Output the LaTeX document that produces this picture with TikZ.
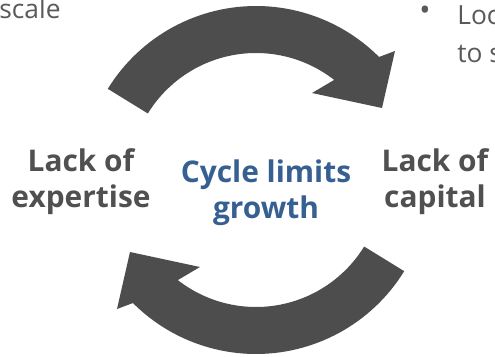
\documentclass[tikz,border=0pt]{standalone}
\usepackage{fontspec}
\setmainfont{Open Sans}
\usetikzlibrary{positioning}

\definecolor{cyclegray}{RGB}{77,77,77}
\definecolor{labelgray}{RGB}{80,80,80}
\definecolor{cycleblue}{RGB}{54,96,146}
\definecolor{notegray}{RGB}{89,89,89}

\begin{document}
\begin{tikzpicture}[
          x=0.02cm, y=0.02cm,
          bandarrow/.style={fill=cyclegray, draw=none},
          sidelabel/.style={align=center, inner sep=0pt, text=labelgray, font=\fontsize{17}{20.4}\selectfont\bfseries},
          centerlabel/.style={align=center, inner sep=0pt, text=cycleblue, font=\fontsize{17}{20.4}\selectfont\bfseries},
          notetext/.style={align=left, inner sep=0pt, text=notegray, font=\fontsize{15}{21.5}\selectfont}
        ]
        \useasboundingbox (0, 0) rectangle (495, 356);

        % ----------------------------------------------------
        % NOTES (cut by the slide edge)
        % ----------------------------------------------------
        \node (scalenote) [notetext, anchor=base west] at (-1, 338) {scale};
        \node (notebullet) [notetext, font=\fontsize{17}{20}\selectfont] at (425, 343) {\textbullet};
        \node (rightnote) [notetext, anchor=base west] at (457, 294) {Loc\\to s};

        % ----------------------------------------------------
        % CYCLE ARROWS
        % ----------------------------------------------------
        \coordinate (cyclecenter) at (256, 176);
        \begin{scope}[shift={(cyclecenter)}]
          \fill[bandarrow] (148.4:174) arc[start angle=148.4, end angle=45, radius=174]
            -- (139, 129) -- (126, 72) -- (56, 87) -- (52:127)
            arc[start angle=52, end angle=148.4, radius=127] -- cycle;
          \fill[bandarrow, rotate=180] (148.4:174) arc[start angle=148.4, end angle=45, radius=174]
            -- (139, 129) -- (126, 72) -- (56, 87) -- (52:127)
            arc[start angle=52, end angle=148.4, radius=127] -- cycle;
        \end{scope}

        % ----------------------------------------------------
        % LABELS
        % ----------------------------------------------------
        \node (expertise) [sidelabel] at (81, 174) {Lack of\\expertise};
        \node (capital) [sidelabel] at (435, 174) {Lack of\\capital};
        \node (growth) [centerlabel] at (266, 163) {Cycle limits\\growth};
      \end{tikzpicture}
\end{document}
